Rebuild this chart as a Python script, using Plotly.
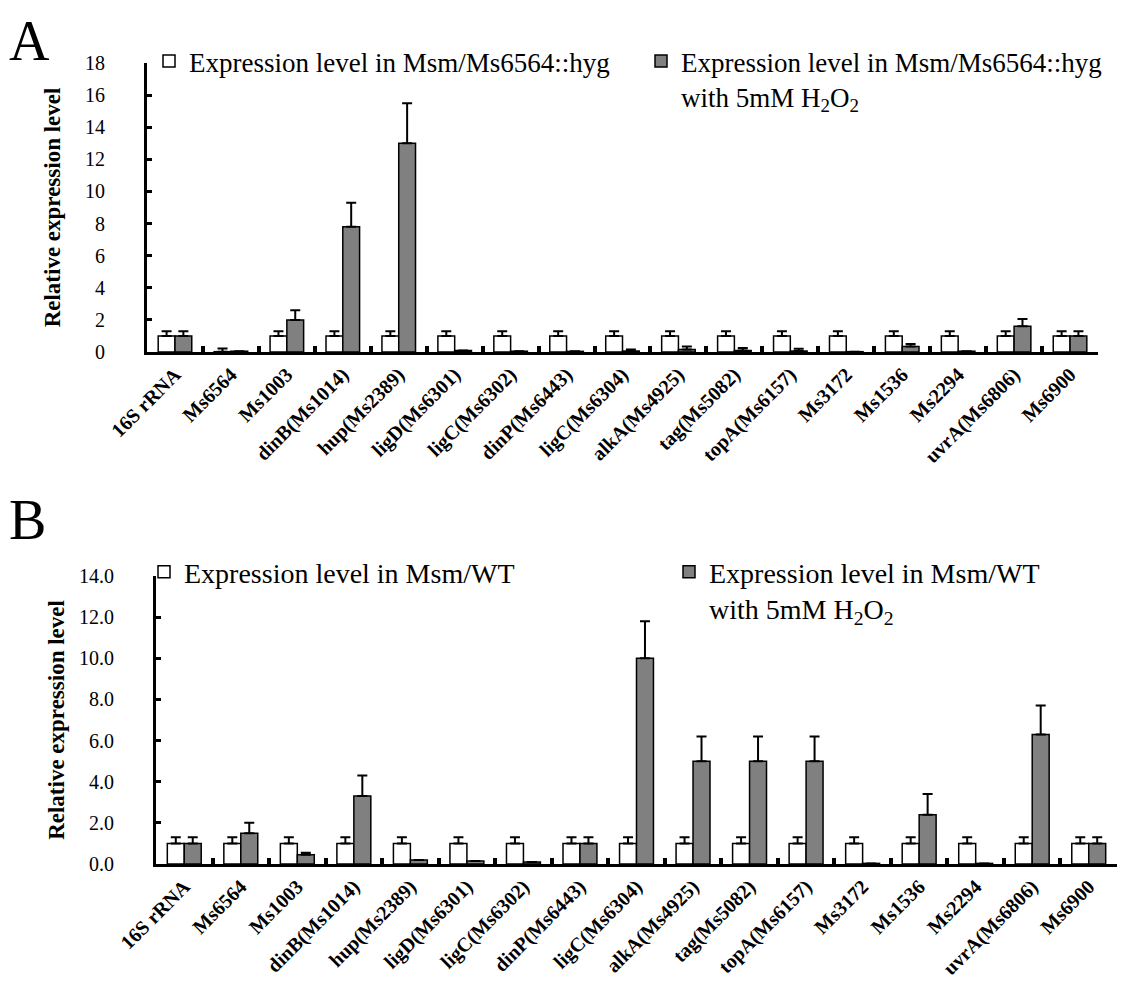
import plotly.graph_objects as go

categories = ["16S rRNA", "Ms6564", "Ms1003", "dinB(Ms1014)", "hup(Ms2389)", "ligD(Ms6301)",
              "ligC(Ms6302)", "dinP(Ms6443)", "ligC(Ms6304)", "alkA(Ms4925)", "tag(Ms5082)",
              "topA(Ms6157)", "Ms3172", "Ms1536", "Ms2294", "uvrA(Ms6806)", "Ms6900"]

# Panel A: Msm/Ms6564::hyg
a_ctrl = [1, 0.02, 1, 1, 1, 1, 1, 1, 1, 1, 1, 1, 1, 1, 1, 1, 1]
a_ctrl_err = [0.3, 0.2, 0.3, 0.3, 0.3, 0.3, 0.3, 0.3, 0.3, 0.3, 0.3, 0.3, 0.3, 0.3, 0.3, 0.3, 0.3]
a_h2o2 = [1, 0.05, 2.0, 7.8, 13.0, 0.1, 0.05, 0.04, 0.06, 0.15, 0.1, 0.06, 0.02, 0.35, 0.05, 1.6, 1.0]
a_h2o2_err = [0.3, 0, 0.6, 1.5, 2.5, 0, 0, 0, 0.1, 0.2, 0.15, 0.15, 0, 0.15, 0, 0.45, 0.3]

# Panel B: Msm/WT
b_ctrl = [1, 1, 1, 1, 1, 1, 1, 1, 1, 1, 1, 1, 1, 1, 1, 1, 1]
b_ctrl_err = [0.3] * 17
b_h2o2 = [1, 1.5, 0.45, 3.3, 0.2, 0.15, 0.1, 1.0, 10.0, 5.0, 5.0, 5.0, 0.03, 2.4, 0.03, 6.3, 1.0]
b_h2o2_err = [0.3, 0.5, 0.1, 1.0, 0, 0, 0, 0.3, 1.8, 1.2, 1.2, 1.2, 0, 1.0, 0, 1.4, 0.3]

legend_a = ["Expression level in Msm/Ms6564::hyg",
            "Expression level in Msm/Ms6564::hyg<br>with 5mM H<sub>2</sub>O<sub>2</sub>"]
legend_b = ["Expression level in Msm/WT",
            "Expression level in Msm/WT<br>with 5mM H<sub>2</sub>O<sub>2</sub>"]

FONT = "Liberation Serif, Times New Roman, serif"
W, H = 1130, 983
OFF = 8  # page body margin
GRAY = "#808080"


def px(v):
    return (v - OFF) / W


def py(v):
    return 1 - (v - OFF) / H


def err(arr):
    return dict(type="data", array=arr, arrayminus=[0] * len(arr), symmetric=False,
                color="black", thickness=2, width=5)


def bar(y, e, name, color, xa, ya, lg):
    return go.Bar(x=categories, y=y, name=name,
                  marker=dict(color=color, line=dict(color="black", width=1.5)),
                  error_y=err(e), xaxis=xa, yaxis=ya, legend=lg)


fig = go.Figure()
fig.add_trace(bar(a_ctrl, a_ctrl_err, legend_a[0], "white", "x", "y", "legend"))
fig.add_trace(bar(a_h2o2, a_h2o2_err, legend_a[1], GRAY, "x", "y", "legend2"))
fig.add_trace(bar(b_ctrl, b_ctrl_err, legend_b[0], "white", "x2", "y2", "legend3"))
fig.add_trace(bar(b_h2o2, b_h2o2_err, legend_b[1], GRAY, "x2", "y2", "legend4"))

xcommon = dict(type="category", showline=True, linecolor="black", linewidth=3, ticks="inside",
               tickson="boundaries", ticklen=6, tickwidth=4, tickcolor="black", tickangle=-45,
               tickfont=dict(family=FONT, size=20, color="black", weight="bold"), showgrid=False,
               fixedrange=True, automargin=False)
ycommon = dict(showline=True, linecolor="black", linewidth=3, ticks="inside", ticklen=5, tickwidth=3,
               tickcolor="black", showgrid=False, zeroline=False, ticklabelstandoff=35,
               tickfont=dict(family=FONT, size=20, color="black"), automargin=False)


def leg(x, y, size):
    return dict(orientation="v", x=px(x), y=py(y), xanchor="left", yanchor="top",
                font=dict(family=FONT, size=size, color="black"), valign="top",
                bgcolor="rgba(0,0,0,0)", borderwidth=0)


fig.update_layout(
    width=W, height=H,
    margin=dict(l=0, r=0, t=0, b=0, autoexpand=False),
    paper_bgcolor="white", plot_bgcolor="white",
    barmode="group", bargap=0.4, bargroupgap=0,
    font=dict(family=FONT, color="black"),
    xaxis=dict(domain=[px(147), px(1098)], anchor="y", **xcommon),
    yaxis=dict(domain=[py(352), py(63)], anchor="x", range=[0, 18], dtick=2,
               title=dict(text="Relative expression level", standoff=18,
                          font=dict(family=FONT, size=23, weight="bold")), **ycommon),
    xaxis2=dict(domain=[px(156), px(1117)], anchor="y2", **xcommon),
    yaxis2=dict(domain=[py(864), py(576)], anchor="x2", range=[0, 14], dtick=2, tickformat=".1f",
                title=dict(text="Relative expression level", standoff=8,
                           font=dict(family=FONT, size=23, weight="bold")), **ycommon),
    legend=leg(149, 37, 27),
    legend2=leg(641, 37, 27),
    legend3=leg(144, 547, 28),
    legend4=leg(669, 547, 28),
    annotations=[
        dict(text="A", x=px(7), y=py(8), xref="paper", yref="paper", xanchor="left", yanchor="top",
             showarrow=False, font=dict(family=FONT, size=56)),
        dict(text="B", x=px(7), y=py(487), xref="paper", yref="paper", xanchor="left", yanchor="top",
             showarrow=False, font=dict(family=FONT, size=56)),
    ],
    showlegend=True,
)

fig.write_html("out.html")
